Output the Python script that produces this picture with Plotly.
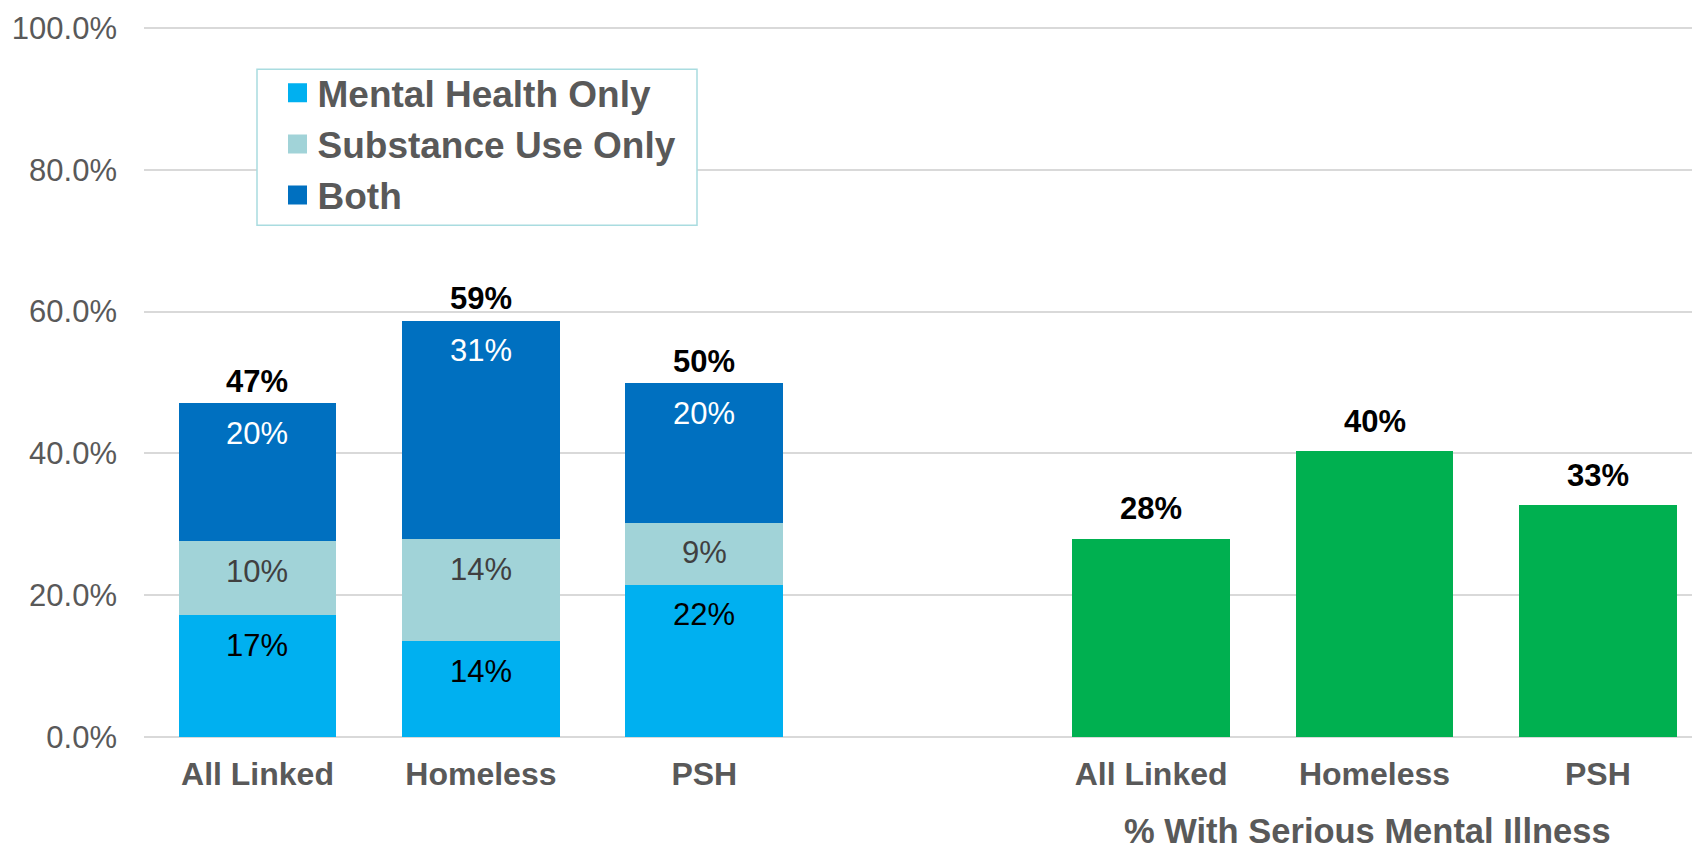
import plotly.graph_objects as go

# ---- data ----
categories = ["All Linked", "Homeless", "PSH"]
mental_health_only = [17.2, 13.5, 21.5]
substance_use_only = [10.4, 14.4, 8.7]
both = [19.5, 30.8, 19.7]
serious_mental_illness = [28.0, 40.3, 32.7]
left_positions = [0, 1, 2]
right_positions = [4, 5, 6]
y_tick_values = [0, 20, 40, 60, 80, 100]
y_tick_labels = ["0.0%", "20.0%", "40.0%", "60.0%", "80.0%", "100.0%"]
series_names = ["Mental Health Only", "Substance Use Only", "Both"]
smi_title = "% With Serious Mental Illness"

FONT = "Arial, 'Liberation Sans', sans-serif"
C_MH = "#00B0F0"
C_SU = "#A1D3D8"
C_BOTH = "#0070C0"
C_SMI = "#00B050"
GRID = "#D9D9D9"
AXIS_TXT = "#595959"
LEGEND_BORDER = "#A9DCE0"

# page offset of the plotly div (body margin) = 8px; figure sized to fill the window
OFF = 8
W, H = 1692, 843
ML, MT, MB = 136, 18.7, 114
PW, PH = W - ML, H - MT - MB


def px_x(page_x):
    return (page_x - OFF - ML) / PW


def px_y(page_y):
    return 1 - (page_y - OFF - MT) / PH


def pct(v):
    return f"{v:.0f}%"


series = [mental_health_only, substance_use_only, both]
colors = [C_MH, C_SU, C_BOTH]
inner_text_colors = ["#000000", "#404040", "#FFFFFF"]

fig = go.Figure()

for vals, name, col in zip(series, series_names, colors):
    fig.add_trace(go.Bar(
        x=left_positions, y=vals, name=name, showlegend=False,
        marker=dict(color=col, line=dict(width=0)), hoverinfo="skip"))

fig.add_trace(go.Bar(
    x=right_positions, y=serious_mental_illness, showlegend=False,
    marker=dict(color=C_SMI, line=dict(width=0)), hoverinfo="skip"))

# legend entries with larger square swatches
for name, col in zip(series_names, colors):
    fig.add_trace(go.Scatter(
        x=[None], y=[None], mode="markers", name=name,
        marker=dict(symbol="square", size=16, color=col, line=dict(width=3, color=col))))

annotations = []
base = [0.0] * len(categories)
for vals, tcol in zip(series, inner_text_colors):
    for i, v in enumerate(vals):
        top = base[i] + v
        annotations.append(dict(
            x=left_positions[i], y=top, xref="x", yref="y", text=pct(v),
            showarrow=False, yanchor="middle", yshift=-30,
            font=dict(family=FONT, size=31, color=tcol)))
        base[i] = top
totals = base

for x, t in zip(left_positions, totals):
    annotations.append(dict(
        x=x, y=t, xref="x", yref="y", text=pct(t), showarrow=False,
        yanchor="middle", yshift=22,
        font=dict(family=FONT, size=31, color="#000000", weight="bold")))
for x, v in zip(right_positions, serious_mental_illness):
    annotations.append(dict(
        x=x, y=v, xref="x", yref="y", text=pct(v), showarrow=False,
        yanchor="middle", yshift=30,
        font=dict(family=FONT, size=31, color="#000000", weight="bold")))

annotations.append(dict(
    x=right_positions[1], xref="x", xshift=-7, y=px_y(831.5), yref="paper",
    yanchor="middle", text=smi_title, showarrow=False,
    font=dict(family=FONT, size=34.5, color=AXIS_TXT, weight="bold")))

legend_box = dict(
    type="rect", xref="paper", yref="paper",
    x0=px_x(257), x1=px_x(697), y0=px_y(225), y1=px_y(69),
    fillcolor="white", line=dict(color=LEGEND_BORDER, width=1.5), layer="above")

fig.update_layout(
    width=W, height=H,
    barmode="stack", bargap=0.294,
    plot_bgcolor="white", paper_bgcolor="white",
    margin=dict(l=ML, r=0, t=MT, b=MB, autoexpand=False),
    font=dict(family=FONT, color=AXIS_TXT),
    annotations=annotations,
    shapes=[legend_box],
    legend=dict(
        x=px_x(277.5), y=px_y(62), xanchor="left", yanchor="top",
        traceorder="normal", bgcolor="rgba(0,0,0,0)", borderwidth=0,
        font=dict(family=FONT, size=37, color=AXIS_TXT, weight="bold"),
        itemwidth=30, tracegroupgap=0),
    xaxis=dict(
        range=[-0.508, 6.457], tickmode="array",
        tickvals=left_positions + right_positions,
        ticktext=categories + categories,
        tickfont=dict(family=FONT, size=32, color=AXIS_TXT, weight="bold"),
        showgrid=False, zeroline=False, showline=False, ticks="",
        ticklabelstandoff=15, automargin=False),
    yaxis=dict(
        range=[0, 100.15], tickmode="array", tickvals=y_tick_values,
        ticktext=y_tick_labels,
        tickfont=dict(family=FONT, size=31, color=AXIS_TXT),
        showgrid=True, gridcolor=GRID, gridwidth=1.5,
        zeroline=True, zerolinecolor=GRID, zerolinewidth=1.5,
        showline=False, ticks="", ticklabelstandoff=26, automargin=False),
)

fig.write_html("out.html")
